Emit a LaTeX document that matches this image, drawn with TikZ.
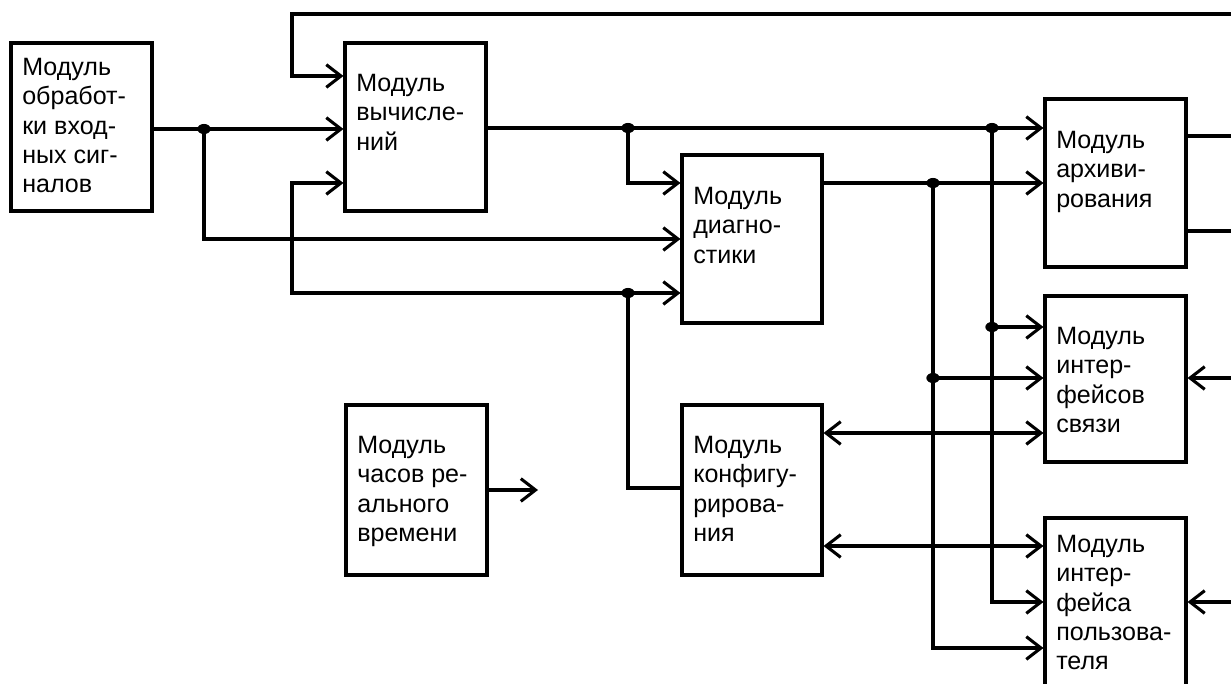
\documentclass[tikz,border=0pt]{standalone}
\usepackage{fontspec}
\setmainfont{Liberation Sans}
\usetikzlibrary{arrows.meta,fit}
\begin{document}
\begin{tikzpicture}[x=0.75pt,y=-0.75pt,
  box/.style={draw,line width=2.3pt,inner sep=0pt},
  txt/.style={anchor=north west,align=left,inner sep=0pt,font=\fontsize{18.8}{22}\selectfont},
  wire/.style={line width=2.3pt},
  arr/.style={line width=2.3pt,-{Straight Barb[length=11pt,width=17pt]}},
  darr/.style={line width=2.3pt,{Straight Barb[length=11pt,width=17pt]}-{Straight Barb[length=11pt,width=17pt]}},
  jdot/.style={fill=black}]
\useasboundingbox (0,0) rectangle (1231,684);
\clip (0,0) rectangle (1231,684);
% boxes
\node[box,fit={(11,43)(152,211)}] (b1) {};
\node[box,fit={(345,43)(486,211)}] (b2) {};
\node[box,fit={(682,155)(822,323)}] (b3) {};
\node[box,fit={(1045,99)(1186,267)}] (b4) {};
\node[box,fit={(1045,296)(1186,462)}] (b5) {};
\node[box,fit={(1045,518)(1186,720)}] (b6) {};
\node[box,fit={(346,405)(487,575)}] (b7) {};
\node[box,fit={(682,405)(822,575)}] (b8) {};
% texts
\node[txt] (t1) at (22,58) {Модуль\\обработ-\\ки вход-\\ных сиг-\\налов};
\node[txt] (t2) at (356,74) {Модуль\\вычисле-\\ний};
\node[txt] (t3) at (693,187) {Модуль\\диагно-\\стики};
\node[txt] (t4) at (1056,131) {Модуль\\архиви-\\рования};
\node[txt] (t5) at (1056,327) {Модуль\\интер-\\фейсов\\связи};
\node[txt] (t6) at (1056,535) {Модуль\\интер-\\фейса\\пользова-\\теля};
\node[txt] (t7) at (357,436) {Модуль\\часов ре-\\ального\\времени};
\node[txt] (t8) at (693,436) {Модуль\\конфигу-\\рирова-\\ния};
% coordinates
\coordinate (r0) at (1231,14);
\coordinate (c1) at (292,14);
\coordinate (c2) at (292,76);
\coordinate (j1) at (204,129);
\coordinate (c3) at (204,239);
\coordinate (c4) at (292,183);
\coordinate (c5) at (292,293);
\coordinate (j2) at (628,293);
\coordinate (c6) at (628,488);
\coordinate (j3) at (628,128);
\coordinate (c7) at (628,183);
\coordinate (j4) at (992,128);
\coordinate (j5) at (992,327);
\coordinate (c8) at (992,602);
\coordinate (j6) at (933,183);
\coordinate (j7) at (933,378);
\coordinate (c9) at (933,648);
\coordinate (e1) at (1231,378);
\coordinate (e2) at (1231,602);
\coordinate (e3) at (1231,136);
\coordinate (e4) at (1231,231);
\coordinate (c10) at (538,490);
\coordinate (y1) at (0,433);
\coordinate (y2) at (0,546);
% connectors
\draw[arr] (r0) -- (c1) -- (c2) -- (b2.west |- c2);
\draw[arr] (b1.east |- j1) -- (b2.west |- j1);
\draw[arr] (j1) -- (c3) -- (b3.west |- c3);
\draw[arr] (j2) -- (c5) -- (c4) -- (b2.west |- c4);
\draw[arr] (j2) -- (b3.west |- j2);
\draw[wire] (j2) -- (c6) -- (b8.west |- c6);
\draw[arr] (b2.east |- j3) -- (b4.west |- j3);
\draw[arr] (j3) -- (c7) -- (b3.west |- c7);
\draw[arr] (b3.east |- j6) -- (b4.west |- j6);
\draw[arr] (j4) -- (j5) -- (b5.west |- j5);
\draw[arr] (j5) -- (c8) -- (b6.west |- c8);
\draw[arr] (j6) -- (j7) -- (b5.west |- j7);
\draw[arr] (j7) -- (c9) -- (b6.west |- c9);
\draw[darr] (b8.east |- y1) -- (b5.west |- y1);
\draw[darr] (b8.east |- y2) -- (b6.west |- y2);
\draw[arr] (e1) -- (b5.east |- e1);
\draw[arr] (e2) -- (b6.east |- e2);
\draw[wire] (b4.east |- e3) -- (e3);
\draw[wire] (b4.east |- e4) -- (e4);
\draw[arr] (b7.east |- c10) -- (c10);
% junction dots
\foreach \p in {j1,j2,j3,j4,j5,j6,j7}
  \fill[jdot] (\p) ellipse [x radius=5pt, y radius=3.8pt];
\end{tikzpicture}
\end{document}
